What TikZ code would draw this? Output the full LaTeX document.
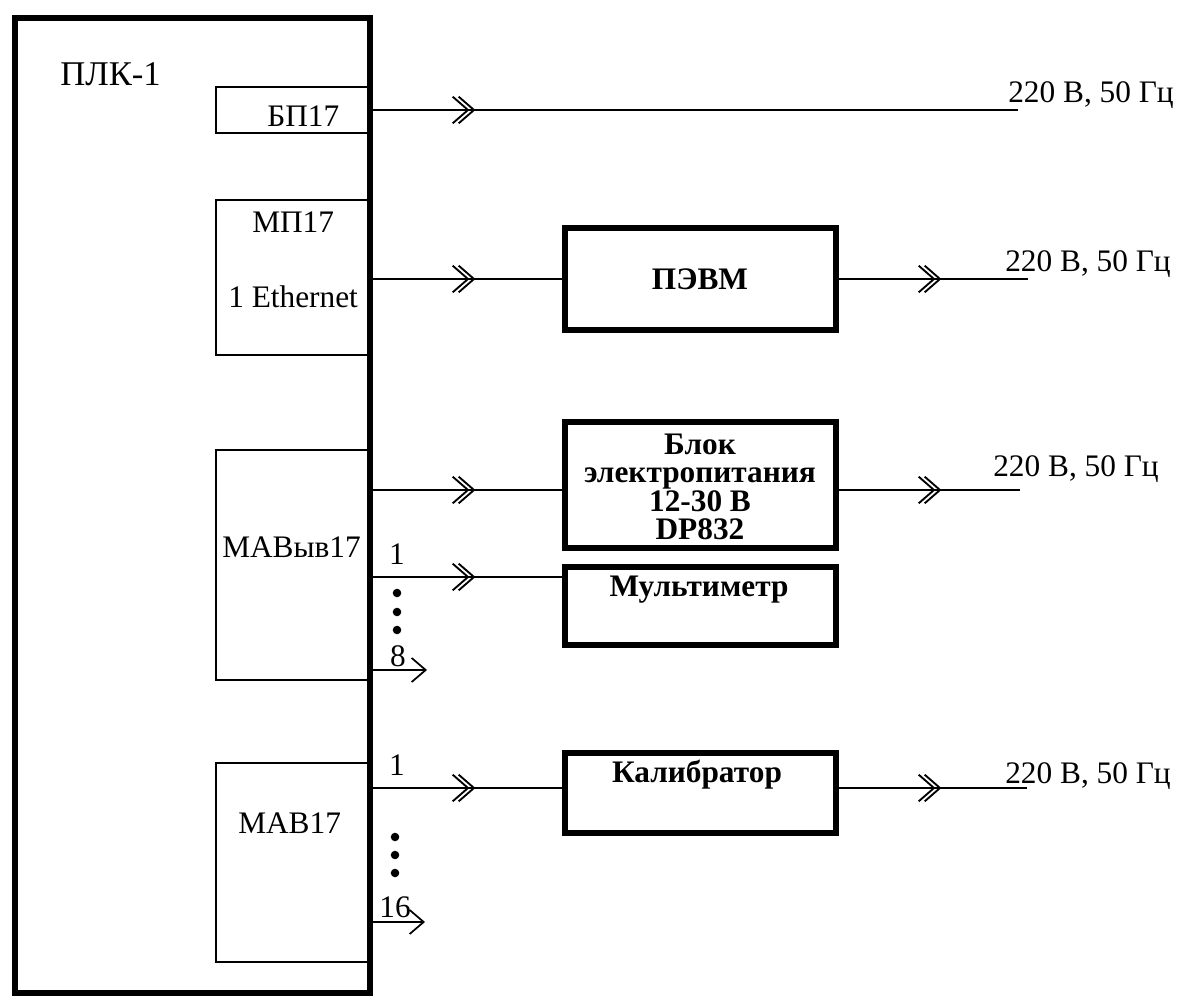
\documentclass[tikz,border=0pt]{standalone}
\usepackage{fontspec}
\setmainfont{Liberation Serif}
\usetikzlibrary{arrows.meta,decorations.markings}
\begin{document}
\begin{tikzpicture}[x=0.75pt,y=-0.75pt,
  mod/.style={draw, line width=1.3pt, inner sep=0pt, outer sep=0pt, anchor=north west, minimum width=115.5pt},
  dev/.style={draw, line width=4pt, inner sep=0pt, outer sep=0pt, anchor=north west, minimum width=203.25pt},
  txt/.style={font=\fontsize{23.5}{24}\selectfont, inner sep=0pt, anchor=base west},
  btxt/.style={font=\bfseries\fontsize{23.5}{21.2}\selectfont, inner sep=0pt, anchor=base, align=center},
  conn/.style={line width=1.3pt},
  chev/.style={line width=1.4pt},
  dchev/.style={postaction={decorate}, decoration={markings, mark=at position 78pt with {
      \draw[chev] (-11.5pt,10pt)--(0pt,0pt)--(-11.5pt,-10pt);
      \draw[chev] (-16pt,10pt)--(-4.5pt,0pt)--(-16pt,-10pt);}}},
  sarrow/.style={-{Straight Barb[length=10.5pt,width=18pt,line width=1.3pt]}},
  dot/.style={fill=black}
]
\useasboundingbox (0,0) rectangle (1179,998);

% modules
\node[mod, minimum height=34.5pt] (bp) at (216,87) {};
\node[mod, minimum height=116.25pt] (mp) at (216,200) {};
\node[mod, minimum height=172.5pt] (mavyv) at (216,450) {};
\node[mod, minimum height=149.25pt] (mav) at (216,763) {};

% main PLC box
\node[draw, line width=4.5pt, inner sep=0pt, outer sep=0pt, anchor=north west,
  minimum width=266.25pt, minimum height=731.25pt] (plc) at (15,18) {};

\node[txt, font=\fontsize{26}{26}\selectfont] (plclbl) at (60,86) {ПЛК-1};
\node[txt] (bplbl) at (267,127) {БП17};
\node[txt] (mplbl) at (252,233) {МП17};
\node[txt] (ethlbl) at (228,308) {1 Ethernet};
\node[txt] (mavyvlbl) at (222,557) {МАВыв17};
\node[txt] (mavlbl) at (238,833) {МАВ17};

% devices
\node[dev, minimum height=76.5pt] (pevm) at (565,228) {};
\node[dev, minimum height=94.5pt] (blok) at (565,422) {};
\node[dev, minimum height=58.5pt] (mult) at (565,567) {};
\node[dev, minimum height=60pt] (kal) at (565,753) {};
\node[btxt] (pevmlbl) at (700,290) {ПЭВМ};
\node[btxt, anchor=center] (bloklbl) at (700,487) {Блок\\электропитания\\12-30 В\\DP832};
\node[btxt] (multlbl) at (699,597) {Мультиметр};
\node[btxt] (kallbl) at (697,782) {Калибратор};

% free ends
\coordinate (e1) at (1018,110);
\coordinate (e2) at (1028,279);
\coordinate (e3) at (1020,490);
\coordinate (e4) at (1027,788);
\coordinate (o8) at (427,670);
\coordinate (o16) at (425,922);

% connectors
\draw[conn,dchev] (bp.east) -- (e1);
\draw[conn,dchev] (mp.east |- pevm.west) -- (pevm.west);
\draw[conn,dchev] (pevm.east) -- (e2);
\draw[conn,dchev] (mavyv.east |- e3) -- (blok.west |- e3);
\draw[conn,dchev] (blok.east |- e3) -- (e3);
\draw[conn,dchev] (mavyv.east |- 0,577) -- (mult.west |- 0,577);
\draw[conn,sarrow] (mavyv.east |- o8) -- (o8);
\draw[conn,dchev] (mav.east |- e4) -- (kal.west |- e4);
\draw[conn,dchev] (kal.east |- e4) -- (e4);
\draw[conn,sarrow] (mav.east |- o16) -- (o16);

% supply labels
\node[txt] (s1) at (1008,103) {220 В, 50 Гц};
\node[txt] (s2) at (1005,272) {220 В, 50 Гц};
\node[txt] (s3) at (993,477) {220 В, 50 Гц};
\node[txt] (s4) at (1005,783) {220 В, 50 Гц};

% channel numbers
\node[txt, anchor=base] (n1a) at (397,565) {1};
\node[txt, anchor=base] (n8) at (398,667) {8};
\node[txt, anchor=base] (n1b) at (397,775) {1};
\node[txt, anchor=base] (n16) at (395,917) {16};

% dots
\fill[dot] (397,593) circle (3.2pt);
\fill[dot] (397,612) circle (3.2pt);
\fill[dot] (397,630) circle (3.2pt);
\fill[dot] (395,837) circle (3.2pt);
\fill[dot] (395,855) circle (3.2pt);
\fill[dot] (395,873) circle (3.2pt);
\end{tikzpicture}
\end{document}
